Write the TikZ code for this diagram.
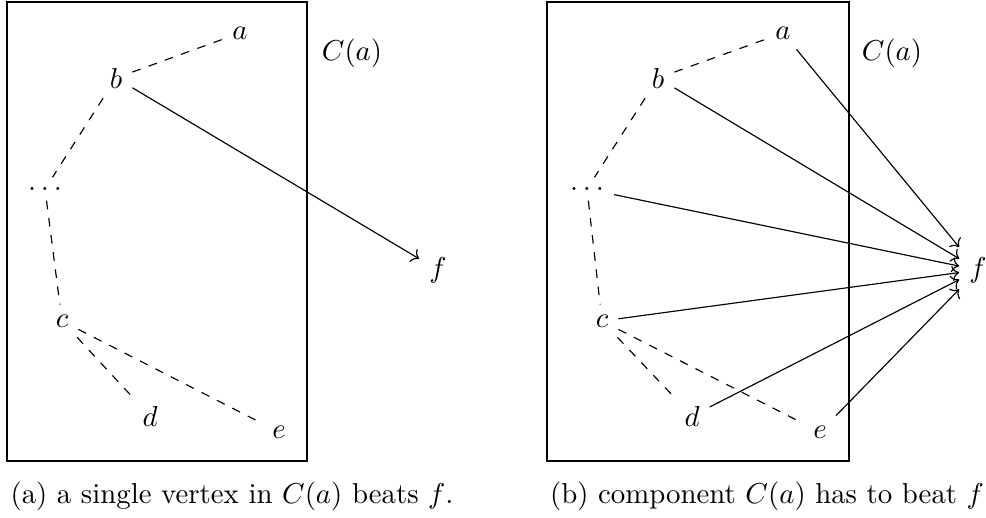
\documentclass[tikz,border=0pt]{standalone}
\usetikzlibrary{arrows.meta}

\begin{document}
\begin{tikzpicture}[x=0.347pt, y=-0.347pt,
  link/.style={dashed},
  beat/.style={-{To}}]
\useasboundingbox (0,0) rectangle (986,517);
% (a) a single vertex
\draw (7,2) rectangle (307,461);
\node (a1) at (240,33) {$a$};
\node (b1) at (116,78) {$b$};
\node (d1) at (45,189) {$\dots$};
\node (c1) at (62,321) {$c$};
\node (dd1) at (150,416) {$d$};
\node (e1) at (279,432) {$e$};
\node (f1) at (438,270) {$f$};
\node (ca1) at (352,53) {$C(a)$};
\draw[link] (b1) -- (a1);
\draw[link] (b1) -- (d1);
\draw[link] (d1) -- (c1);
\draw[link] (c1) -- (dd1);
\draw[link] (c1) -- (e1);
\draw[beat] (b1) -- (f1);
\node (cap1) at (232,496) {(a) a single vertex in $C(a)$ beats $f$.};
% (b) the whole component
\draw (547,2) rectangle (849,461);
\node (a2) at (783,33) {$a$};
\node (b2) at (658,78) {$b$};
\node (d2) at (587,189) {$\dots$};
\node (c2) at (602,321) {$c$};
\node (dd2) at (692,416) {$d$};
\node (e2) at (820,432) {$e$};
\node (f2) at (978,270) {$f$};
\node (ca2) at (892,53) {$C(a)$};
\draw[link] (b2) -- (a2);
\draw[link] (b2) -- (d2);
\draw[link] (d2) -- (c2);
\draw[link] (c2) -- (dd2);
\draw[link] (c2) -- (e2);
\foreach \v in {a2,b2,d2,c2,dd2,e2}
  \draw[beat] (\v) -- (f2);
\node (cap2) at (767,496) {(b) component $C(a)$ has to beat $f$};
\end{tikzpicture}
\end{document}
